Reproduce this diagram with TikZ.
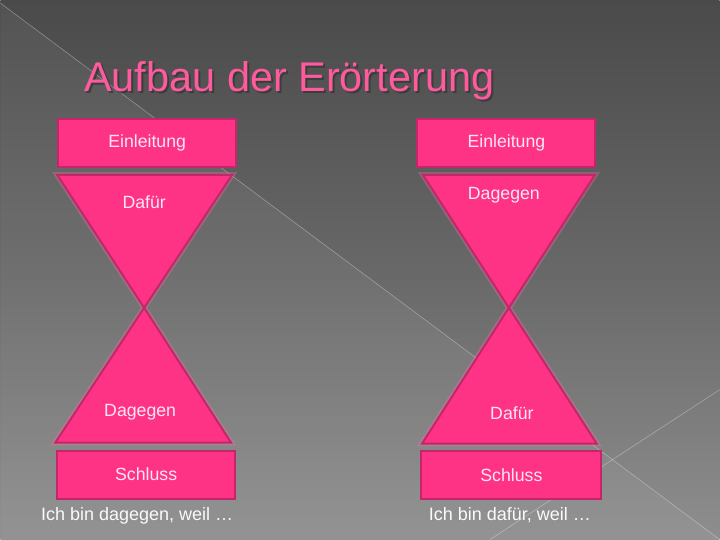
\documentclass[tikz,border=0pt]{standalone}
\usepackage{fontspec}
\setmainfont{Liberation Sans}
\usetikzlibrary{positioning}
\definecolor{pinkfill}{HTML}{FF3385}
\definecolor{pinkline}{HTML}{C4266A}
\definecolor{pinktext}{HTML}{FCE6F3}
\definecolor{titlepink}{HTML}{FF5A9E}
\definecolor{bgtop}{HTML}{4A4A4A}
\definecolor{bgmid}{HTML}{686868}
\definecolor{bgbot}{HTML}{8E8E8E}
\tikzset{
  box/.style = {rectangle, draw=pinkline, fill=pinkfill, line width=1.4pt,
    minimum width=4.45cm, minimum height=1.2cm, text=pinktext,
    font=\fontsize{12.6}{15}\selectfont},% Einleitung / Schluss
  glow/.style = {draw=pinkfill!70!white, opacity=0.3, line width=4pt},
  tri/.style = {draw=pinkline, fill=pinkfill, line width=1.4pt},
  lbl/.style = {text=pinktext, font=\fontsize{12.6}{15}\selectfont},
  note/.style = {text=white!96!gray, font=\fontsize{12.8}{15}\selectfont},
  titel/.style = {anchor=base west, text=titlepink,
    font=\fontsize{29.5}{34}\selectfont},
  deko/.style = {white, opacity=0.35, line width=0.4pt}
}

\begin{document}
\begin{tikzpicture}[x=0.025cm, y=-0.025cm]
  % background
  \shade[top color=bgtop, bottom color=bgbot, middle color=bgmid] (0,0) rectangle (720,540);
  \fill[white, opacity=0.05] (0,3) -- (720,540) -- (0,540) -- cycle;
  \draw[deko] (0,3) -- (720,540);
  \draw[deko] (720,390) -- (490,540);
  \useasboundingbox (0,0) rectangle (720,540);

  % title
  \node[titel, text=black!80, opacity=0.7] at (81,94) {Aufbau der Erörterung};
  \node[titel] (titel) at (79,92) {Aufbau der Erörterung};

  % left: dafuer
  \coordinate (lo1) at (57,175);
  \coordinate (lo2) at (232,175);
  \coordinate (lmid) at (144,308);
  \coordinate (lu1) at (55,443);
  \coordinate (lu2) at (231,443);
  \draw[glow] (lo1) -- (lo2) -- (lmid) -- cycle (lmid) -- (lu2) -- (lu1) -- cycle;
  \filldraw[tri] (lo1) -- (lo2) -- (lmid) -- cycle;
  \filldraw[tri] (lmid) -- (lu2) -- (lu1) -- cycle;
  \node[box] (einlL) at (147,143) {Einleitung};
  \node[lbl] (dafL) at (144,202) {Dafür};
  \node[lbl] (gegL) at (140,413) {Dagegen};
  \node[box] (schlL) at (146,475) {Schluss};
  \node[note] (fazitL) at (137,516) {Ich bin dagegen, weil \dots};

  % right: dagegen
  \coordinate (ro1) at (423,175);
  \coordinate (ro2) at (595,175);
  \coordinate (rmid) at (509,308);
  \coordinate (ru1) at (422,444);
  \coordinate (ru2) at (597,444);
  \draw[glow] (ro1) -- (ro2) -- (rmid) -- cycle (rmid) -- (ru2) -- (ru1) -- cycle;
  \filldraw[tri] (ro1) -- (ro2) -- (rmid) -- cycle;
  \filldraw[tri] (rmid) -- (ru2) -- (ru1) -- cycle;
  \node[box] (einlR) at (506.5,143.5) {Einleitung};
  \node[lbl] (gegR) at (504,195) {Dagegen};
  \node[lbl] (dafR) at (512,413) {Dafür};
  \node[box, minimum width=4.5cm] (schlR) at (511.5,475.5) {Schluss};
  \node[note] (fazitR) at (510,516) {Ich bin dafür, weil \dots};
\end{tikzpicture}
\end{document}
